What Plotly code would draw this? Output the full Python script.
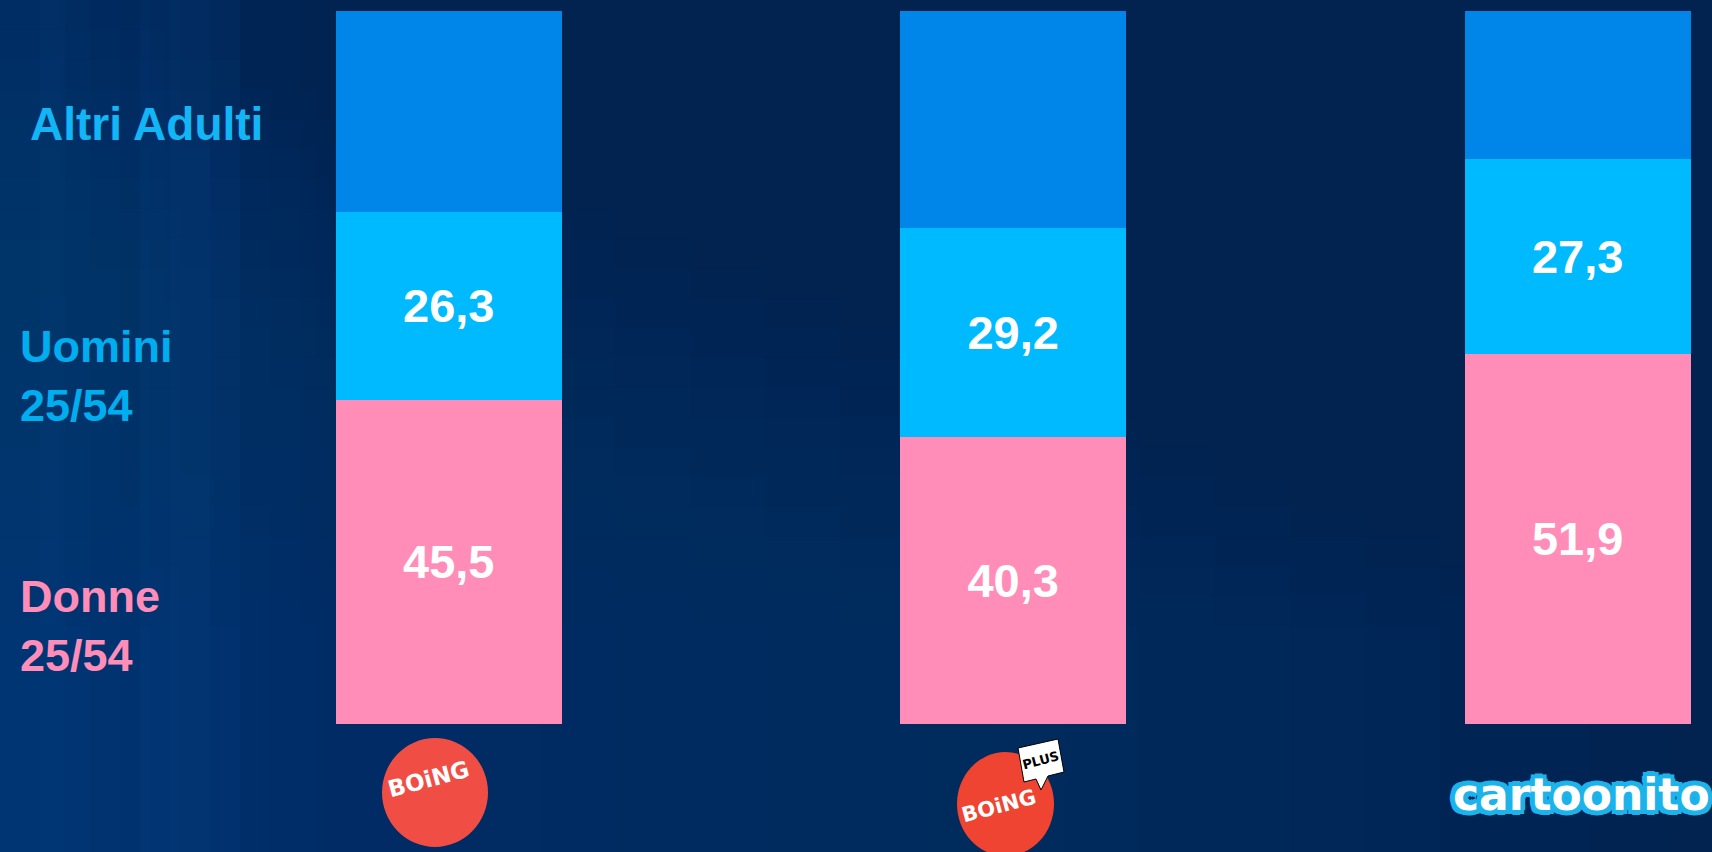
import plotly.graph_objects as go

# channels and audience shares (%)
channels = ["Boing", "Boing Plus", "Cartoonito"]
donne = [45.5, 40.3, 51.9]
uomini = [26.3, 29.2, 27.3]
altri = [28.2, 30.5, 20.8]

W, H = 1712, 852
BG = "#02224F"


def px(x):
    return x / W


def py(y):
    return 1 - y / H


fig = go.Figure()

bar_font = dict(family="Liberation Sans", size=47, color="white")
fig.add_trace(go.Bar(
    x=channels, y=donne, name="Donne 25/54",
    marker=dict(color="#FF8DB8", line=dict(width=0)),
    texttemplate="<b>%{y:.1f}</b>", textposition="inside", insidetextanchor="middle",
    textfont=bar_font,
))
fig.add_trace(go.Bar(
    x=channels, y=uomini, name="Uomini 25/54",
    marker=dict(color="#00BAFF", line=dict(width=0)),
    texttemplate="<b>%{y:.1f}</b>", textposition="inside", insidetextanchor="middle",
    textfont=bar_font,
))
fig.add_trace(go.Bar(
    x=channels, y=altri, name="Altri Adulti",
    marker=dict(color="#0086E8", line=dict(width=0)),
))

# soft background: lighter towards the bottom-left corner
shapes = []
for i in range(22):
    shapes.append(dict(type="rect", xref="paper", yref="paper", layer="below",
                       x0=0, x1=px(90 + 75 * i), y0=0, y1=1 - i * 0.035,
                       fillcolor="#0A5AAE", opacity=0.022, line=dict(width=0)))
for i in range(10):
    shapes.append(dict(type="rect", xref="paper", yref="paper", layer="below",
                       x0=0, x1=px(330 - 30 * i), y0=0, y1=1,
                       fillcolor="#0A5AAE", opacity=0.03, line=dict(width=0)))
for x0, x1, op in [(140, 170, 0.06), (170, 210, 0.09), (210, 240, 0.05), (40, 65, 0.04)]:
    shapes.append(dict(type="rect", xref="paper", yref="paper", layer="below",
                       x0=px(x0), x1=px(x1), y0=0, y1=1,
                       fillcolor="#1564B4", opacity=op, line=dict(width=0)))

# logos
shapes.append(dict(type="circle", xref="paper", yref="paper",
                   x0=px(382), x1=px(488), y0=py(847), y1=py(738),
                   fillcolor="#F04E45", line=dict(width=0)))
shapes.append(dict(type="circle", xref="paper", yref="paper",
                   x0=px(957), x1=px(1054), y0=py(856), y1=py(752),
                   fillcolor="#EE4431", line=dict(width=0)))
shapes.append(dict(type="path", xref="paper", yref="paper",
                   path=(f"M {px(1018)},{py(748)} L {px(1058)},{py(739)} L {px(1064)},{py(772)} "
                         f"L {px(1048)},{py(776)} L {px(1041)},{py(790)} L {px(1036)},{py(779)} "
                         f"L {px(1024)},{py(782)} Z"),
                   fillcolor="white", line=dict(color="black", width=1)))

annotations = []
label_font = "Liberation Sans"
annotations.append(dict(text="<b>Altri Adulti</b>", x=px(28), y=py(124), xref="paper", yref="paper",
                        xanchor="left", yanchor="middle", showarrow=False,
                        font=dict(family=label_font, size=46, color="#12B5F5")))
annotations.append(dict(text="<b>Uomini<br>25/54</b>", x=px(18), y=py(376), xref="paper", yref="paper",
                        xanchor="left", yanchor="middle", align="left", showarrow=False,
                        font=dict(family=label_font, size=45, color="#00AEEF")))
annotations.append(dict(text="<b>Donne<br>25/54</b>", x=px(18), y=py(626), xref="paper", yref="paper",
                        xanchor="left", yanchor="middle", align="left", showarrow=False,
                        font=dict(family=label_font, size=45, color="#FF8DB8")))

annotations.append(dict(text="<b>BOiNG</b>", x=px(429), y=py(779), xref="paper", yref="paper",
                        xanchor="center", yanchor="middle", showarrow=False, textangle=-15,
                        font=dict(family="DejaVu Sans", size=23, color="white")))
annotations.append(dict(text="<b>BOiNG</b>", x=px(999), y=py(806), xref="paper", yref="paper",
                        xanchor="center", yanchor="middle", showarrow=False, textangle=-15,
                        font=dict(family="DejaVu Sans", size=21, color="white")))
annotations.append(dict(text="<b>PLUS</b>", x=px(1040), y=py(760), xref="paper", yref="paper",
                        xanchor="center", yanchor="middle", showarrow=False, textangle=-15,
                        font=dict(family="DejaVu Sans", size=13, color="black")))
stroke = "#1BB3EA"
annotations.append(dict(text="<b>cartoonito</b>", x=px(1581), y=py(794), xref="paper", yref="paper",
                        xanchor="center", yanchor="middle", showarrow=False,
                        font=dict(family="DejaVu Sans", size=44, color="white",
                                  shadow=(f"4px 4px 0 {stroke}, -4px -4px 0 {stroke}, 4px -4px 0 {stroke}, "
                                          f"-4px 4px 0 {stroke}, 0 5px 0 {stroke}, 0 -5px 0 {stroke}, "
                                          f"5px 0 0 {stroke}, -5px 0 0 {stroke}"))))

fig.update_layout(
    barmode="stack",
    bargap=0.6,
    width=W, height=H,
    margin=dict(l=0, r=0, t=0, b=0),
    paper_bgcolor=BG,
    plot_bgcolor="rgba(0,0,0,0)",
    separators=",.",
    showlegend=False,
    shapes=shapes,
    annotations=annotations,
    xaxis=dict(range=[-0.795, 2.238], showticklabels=False, showgrid=False, zeroline=False),
    yaxis=dict(range=[-17.95, 101.54], showticklabels=False, showgrid=False, zeroline=False),
    uniformtext=dict(minsize=47, mode="show"),
)

fig.write_html("out.html", config={"displayModeBar": False},
               post_script="document.body.style.margin='0';")
